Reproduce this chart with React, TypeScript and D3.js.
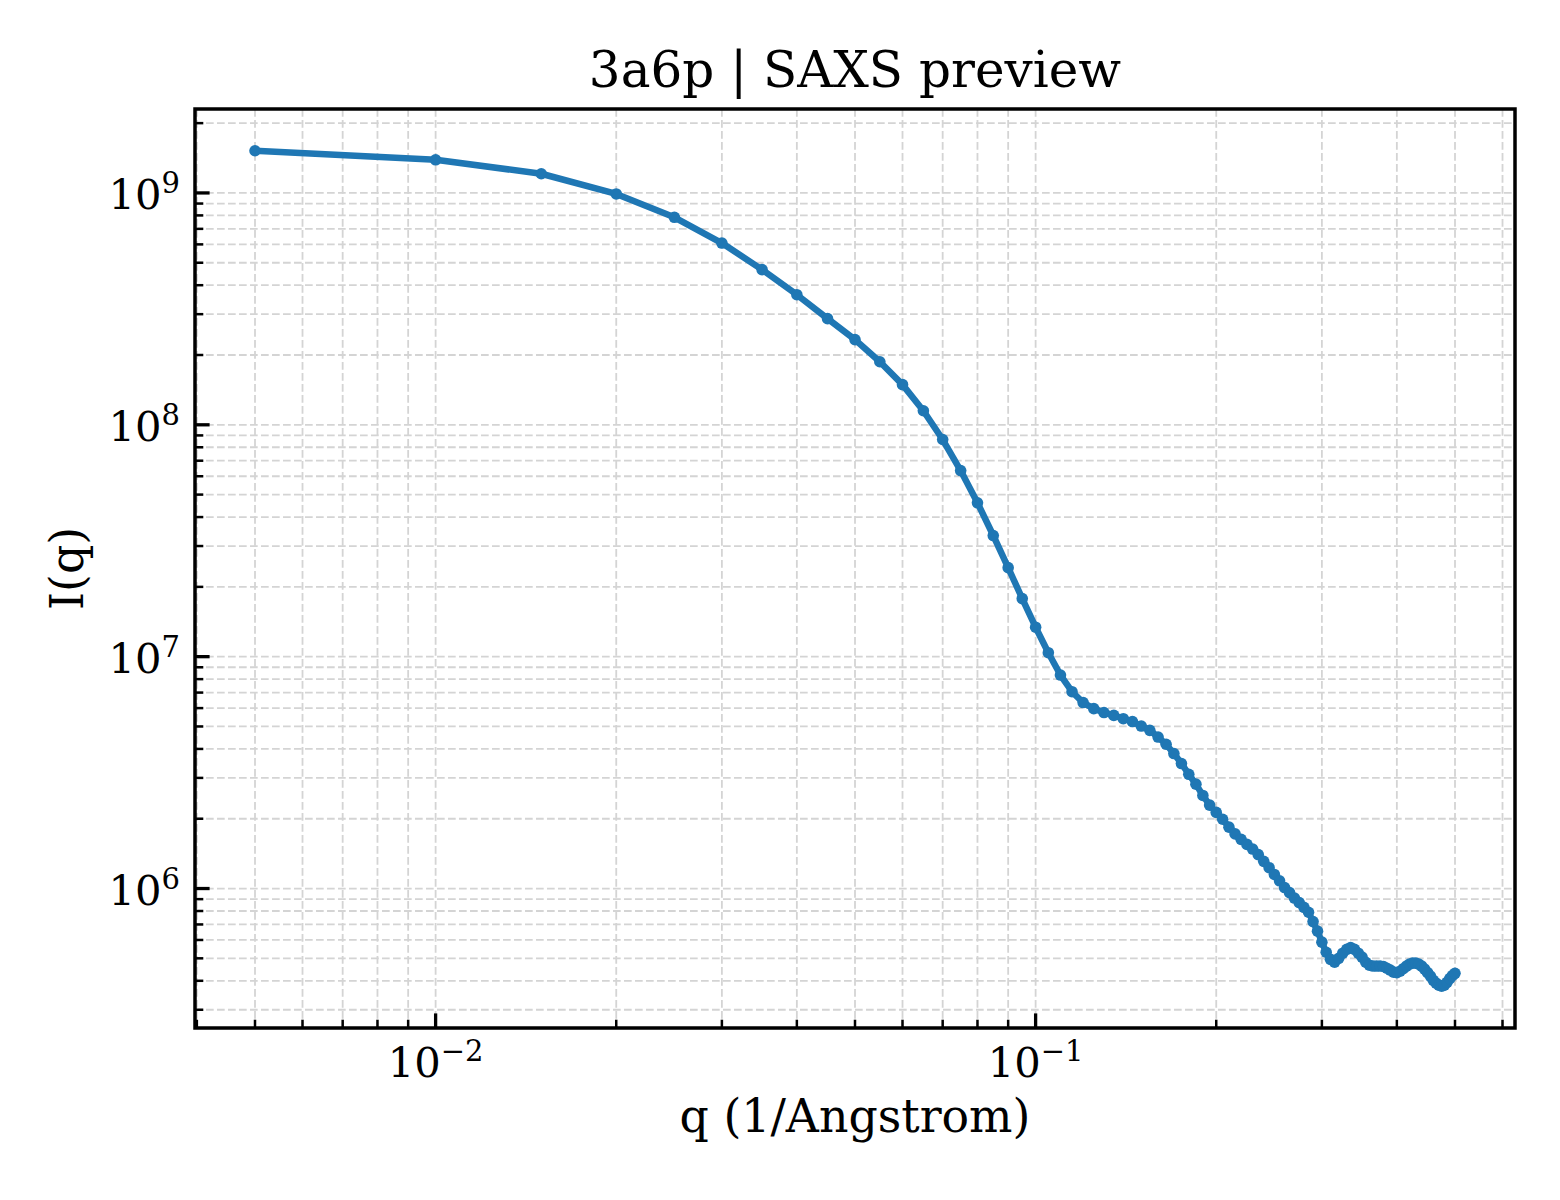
import * as d3 from "d3";

// SAXS preview -- log-log line+marker plot of I(q), matplotlib look.

const TITLE = "3a6p | SAXS preview";
const X_LABEL = "q (1/Angstrom)";
const Y_LABEL = "I(q)";

const Q = [
  0.005, 0.01, 0.015, 0.02, 0.025, 0.03, 0.035, 0.04, 0.045, 0.05,
  0.055, 0.06, 0.065, 0.07, 0.075, 0.08, 0.085, 0.09, 0.095, 0.1,
  0.105, 0.11, 0.115, 0.12, 0.125, 0.13, 0.135, 0.14, 0.145, 0.15,
  0.155, 0.16, 0.165, 0.17, 0.175, 0.18, 0.185, 0.19, 0.195, 0.2,
  0.205, 0.21, 0.215, 0.22, 0.225, 0.23, 0.235, 0.24, 0.245, 0.25,
  0.255, 0.26, 0.265, 0.27, 0.275, 0.28, 0.285, 0.29, 0.295, 0.3,
  0.305, 0.31, 0.315, 0.32, 0.325, 0.33, 0.335, 0.34, 0.345, 0.35,
  0.355, 0.36, 0.365, 0.37, 0.375, 0.38, 0.385, 0.39, 0.395, 0.4,
  0.405, 0.41, 0.415, 0.42, 0.425, 0.43, 0.435, 0.44, 0.445, 0.45,
  0.455, 0.46, 0.465, 0.47, 0.475, 0.48, 0.485, 0.49, 0.495, 0.5,
];

const INTENSITY = [
  1.52e9, 1.39e9, 1.21e9, 9.9e8, 7.85e8, 6.08e8, 4.67e8, 3.64e8, 2.87e8, 2.33e8,
  1.87e8, 1.49e8, 1.15e8, 8.64e7, 6.35e7, 4.61e7, 3.33e7, 2.42e7, 1.78e7, 1.34e7,
  1.04e7, 8.33e6, 7.06e6, 6.34e6, 5.97e6, 5.74e6, 5.58e6, 5.4e6, 5.25e6, 5.02e6,
  4.81e6, 4.5e6, 4.19e6, 3.82e6, 3.46e6, 3.11e6, 2.82e6, 2.52e6, 2.29e6, 2.13e6,
  1.99e6, 1.84e6, 1.72e6, 1.63e6, 1.55e6, 1.48e6, 1.4e6, 1.31e6, 1.23e6, 1.15e6,
  1.08e6, 1.01e6, 9.6e5, 9.1e5, 8.7e5, 8.3e5, 7.9e5, 7.2e5, 6.55e5, 5.87e5,
  5.31e5, 4.95e5, 4.81e5, 5.0e5, 5.26e5, 5.47e5, 5.56e5, 5.47e5, 5.26e5, 5.06e5,
  4.81e5, 4.67e5, 4.63e5, 4.63e5, 4.63e5, 4.61e5, 4.53e5, 4.45e5, 4.36e5, 4.34e5,
  4.4e5, 4.51e5, 4.63e5, 4.72e5, 4.77e5, 4.77e5, 4.72e5, 4.63e5, 4.49e5, 4.34e5,
  4.19e5, 4.02e5, 3.91e5, 3.83e5, 3.79e5, 3.83e5, 3.94e5, 4.09e5, 4.21e5, 4.31e5,
];

const X_TICK_EXPONENTS = ["\u22122", "\u22121"];

// palette / layout
const LINE_COLOR = "#1f77b4";
const GRID_COLOR = "#d4d4d4";
const FONT = "'DejaVu Serif', serif";
const W = 1560;
const H = 1200;
const MARGIN = { top: 109, right: 45, bottom: 172, left: 195 };

// matplotlib-style 5% margin in log space
function logDomain(values: number[]): [number, number] {
  const [lo, hi] = d3.extent(values.map(Math.log10)) as [number, number];
  const pad = (hi - lo) * 0.05;
  return [10 ** (lo - pad), 10 ** (hi + pad)];
}

function isDecade(v: number) {
  return Math.abs(Math.log10(v) - Math.round(Math.log10(v))) < 1e-9;
}

export default function App() {
  const innerW = W - MARGIN.left - MARGIN.right;
  const innerH = H - MARGIN.top - MARGIN.bottom;

  const x = d3.scaleLog().domain(logDomain(Q)).range([0, innerW]);
  const y = d3.scaleLog().domain(logDomain(INTENSITY)).range([innerH, 0]);

  const points = Q.map((q, i) => ({ q, v: INTENSITY[i] }));
  const linePath =
    d3
      .line<{ q: number; v: number }>()
      .x((d) => x(d.q))
      .y((d) => y(d.v))(points) ?? "";

  const xTicks = x.ticks();
  const yTicks = y.ticks();
  const xMajor = xTicks.filter(isDecade);
  const yMajor = yTicks.filter(isDecade);

  return (
    <div style={{ position: "absolute", left: 0, top: 0 }}>
      <svg width={W} height={H} style={{ display: "block", background: "white" }}>
        <text
          x={MARGIN.left + innerW / 2}
          y={87}
          textAnchor="middle"
          fontSize={50}
          fontFamily={FONT}
          fill="#000"
        >
          {TITLE}
        </text>

        <g transform={`translate(${MARGIN.left},${MARGIN.top})`}>
          {/* grid, major + minor */}
          {xTicks.map((t) => (
            <line
              key={`gx${t}`}
              x1={x(t)}
              x2={x(t)}
              y1={0}
              y2={innerH}
              stroke={GRID_COLOR}
              strokeWidth={1.8}
              strokeDasharray="7.7,3.3"
            />
          ))}
          {yTicks.map((t) => (
            <line
              key={`gy${t}`}
              x1={0}
              x2={innerW}
              y1={y(t)}
              y2={y(t)}
              stroke={GRID_COLOR}
              strokeWidth={1.8}
              strokeDasharray="7.7,3.3"
            />
          ))}

          {/* data */}
          <path
            d={linePath}
            fill="none"
            stroke={LINE_COLOR}
            strokeWidth={6.5}
            strokeLinejoin="round"
            strokeLinecap="round"
          />
          {points.map((d) => (
            <circle key={d.q} cx={x(d.q)} cy={y(d.v)} r={5.8} fill={LINE_COLOR} />
          ))}

          {/* ticks, pointing inward */}
          {xTicks.map((t) => {
            const major = isDecade(t);
            return (
              <line
                key={`tx${t}`}
                x1={x(t)}
                x2={x(t)}
                y1={innerH}
                y2={innerH - (major ? 14.6 : 8.3)}
                stroke="#000"
                strokeWidth={major ? 3.3 : 2.5}
              />
            );
          })}
          {yTicks.map((t) => {
            const major = isDecade(t);
            return (
              <line
                key={`ty${t}`}
                x1={0}
                x2={major ? 14.6 : 8.3}
                y1={y(t)}
                y2={y(t)}
                stroke="#000"
                strokeWidth={major ? 3.3 : 2.5}
              />
            );
          })}

          {/* spines */}
          <rect
            x={0}
            y={0}
            width={innerW}
            height={innerH}
            fill="none"
            stroke="#000"
            strokeWidth={3.5}
          />

          {/* tick labels */}
          {xMajor.map((t, i) => (
            <text
              key={`lx${t}`}
              x={x(t)}
              y={innerH + 49}
              textAnchor="middle"
              fontSize={41.7}
              fontFamily={FONT}
              fill="#000"
            >
              10
              <tspan dy={-16} fontSize={29}>
                {X_TICK_EXPONENTS[i] ?? `${Math.round(Math.log10(t))}`.replace("-", "\u2212")}
              </tspan>
            </text>
          ))}
          {yMajor.map((t) => (
            <text
              key={`ly${t}`}
              x={-15}
              y={y(t) + 16}
              textAnchor="end"
              fontSize={41.7}
              fontFamily={FONT}
              fill="#000"
            >
              10
              <tspan dy={-16} fontSize={29}>
                {Math.round(Math.log10(t))}
              </tspan>
            </text>
          ))}

          {/* axis labels */}
          <text
            x={innerW / 2}
            y={innerH + 104}
            textAnchor="middle"
            fontSize={45.8}
            fontFamily={FONT}
            fill="#000"
          >
            {X_LABEL}
          </text>
          <text
            transform={`translate(${83 - MARGIN.left},${innerH / 2}) rotate(-90)`}
            textAnchor="middle"
            fontSize={45.8}
            fontFamily={FONT}
            fill="#000"
          >
            {Y_LABEL}
          </text>
        </g>
      </svg>
    </div>
  );
}
